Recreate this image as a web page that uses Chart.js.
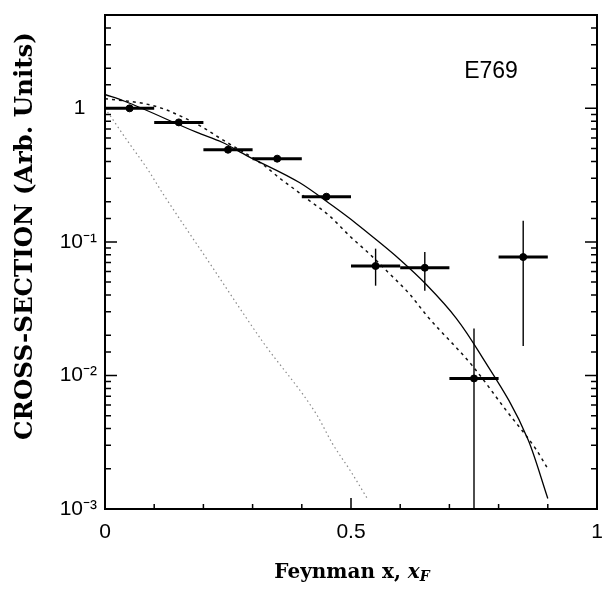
<!DOCTYPE html>
<html>
<head>
<meta charset="utf-8">
<script src="https://cdn.jsdelivr.net/npm/chart.js@4.4.0/dist/chart.umd.min.js"></script>
<style>
html, body { margin: 0; padding: 0; background: #fff; }
</style>
</head>
<body>
<canvas id="myChart" width="602" height="594"></canvas>
<script>
// E769 data points (bin centres, half bin width, value, error range)
var binCenters = [0.05, 0.15, 0.25, 0.35, 0.45, 0.55, 0.65, 0.75, 0.85];
var binHalf = [0.05, 0.05, 0.05, 0.05, 0.05, 0.05, 0.05, 0.05, 0.05];
var crossSection = [1.0, 0.785, 0.49, 0.42, 0.218, 0.066, 0.064, 0.0095, 0.077];
var errLow = [0.97, 0.76, 0.475, 0.405, 0.21, 0.047, 0.043, 0.001, 0.0166];
var errHigh = [1.03, 0.81, 0.505, 0.435, 0.226, 0.089, 0.084, 0.0225, 0.144];

// solid curve
var solidX = [0, 0.04, 0.187, 0.239, 0.288, 0.396, 0.462, 0.511, 0.554, 0.598, 0.653, 0.714, 0.76, 0.86, 0.9];
var solidY = [1.27, 1.13, 0.66, 0.555, 0.443, 0.277, 0.187, 0.137, 0.102, 0.0745, 0.048, 0.0268, 0.015, 0.0033, 0.0012];

// dashed curve
var dashX = [0, 0.077, 0.116, 0.132, 0.199, 0.233, 0.325, 0.355, 0.389, 0.416, 0.456, 0.497, 0.538, 0.578, 0.619, 0.655, 0.746, 0.815, 0.876, 0.9];
var dashY = [1.18, 1.09, 1.0, 0.95, 0.72, 0.6, 0.37, 0.30, 0.242, 0.203, 0.157, 0.111, 0.081, 0.058, 0.0407, 0.0278, 0.0119, 0.0055, 0.0028, 0.002];

// light dotted curve
var dotX = [0, 0.01, 0.045, 0.087, 0.118, 0.219, 0.26, 0.32, 0.43, 0.462, 0.5, 0.533];
var dotY = [1.0, 0.886, 0.575, 0.348, 0.229, 0.064, 0.038, 0.018, 0.0051, 0.0031, 0.0019, 0.0012];

var xTickValues = [0, 0.5, 1];
var xTickLabels = ['0', '0.5', '1'];
var yTickValues = [0.001, 0.01, 0.1, 1];
var yTickLabels = ['10\u207B\u00B3', '10\u207B\u00B2', '10\u207B\u00B9', '1  '];

function pts(xs, ys) {
  var out = [];
  for (var i = 0; i < xs.length; i++) out.push({x: xs[i], y: ys[i]});
  return out;
}

function findLabel(v, vals, labels) {
  for (var i = 0; i < vals.length; i++) {
    if (Math.abs(v - vals[i]) <= Math.max(1e-9, vals[i] * 1e-6)) return labels[i];
  }
  return '';
}

var errorBars = {
  id: 'errorBars',
  afterDatasetsDraw: function(chart) {
    var ctx = chart.ctx, xs = chart.scales.x, ys = chart.scales.y, a = chart.chartArea;
    ctx.save();
    ctx.beginPath();
    ctx.rect(a.left, a.top, a.right - a.left, a.bottom - a.top);
    ctx.clip();
    ctx.strokeStyle = '#000';
    for (var i = 0; i < binCenters.length; i++) {
      var py = ys.getPixelForValue(crossSection[i]);
      var px = xs.getPixelForValue(binCenters[i]);
      ctx.lineWidth = 3;
      ctx.beginPath();
      ctx.moveTo(xs.getPixelForValue(binCenters[i] - binHalf[i]), py);
      ctx.lineTo(xs.getPixelForValue(binCenters[i] + binHalf[i]), py);
      ctx.stroke();
      ctx.lineWidth = 1.4;
      ctx.beginPath();
      ctx.moveTo(px, ys.getPixelForValue(errLow[i]));
      ctx.lineTo(px, ys.getPixelForValue(errHigh[i]));
      ctx.stroke();
    }
    ctx.restore();
  }
};

var frame = {
  id: 'frame',
  afterDraw: function(chart) {
    var ctx = chart.ctx, a = chart.chartArea, xs = chart.scales.x, ys = chart.scales.y;
    ctx.save();
    ctx.strokeStyle = '#000';
    ctx.lineWidth = 2;
    ctx.strokeRect(a.left, a.top, a.right - a.left, a.bottom - a.top);
    ctx.lineWidth = 1.5;
    ctx.beginPath();
    ys.ticks.forEach(function(t) {
      var e = Math.log10(t.value);
      var major = Math.abs(e - Math.round(e)) < 1e-6;
      var len = major ? 12 : 6;
      var py = ys.getPixelForValue(t.value);
      if (py < a.top + 1 || py > a.bottom - 1) return;
      ctx.moveTo(a.left, py); ctx.lineTo(a.left + len, py);
      ctx.moveTo(a.right, py); ctx.lineTo(a.right - len, py);
    });
    xs.ticks.forEach(function(t) {
      var major = findLabel(t.value, xTickValues, xTickLabels) !== '';
      var len = major ? 11 : 5;
      var px = xs.getPixelForValue(t.value);
      ctx.moveTo(px, a.bottom); ctx.lineTo(px, a.bottom - len);
    });
    ctx.stroke();

    // titles and tag
    ctx.fillStyle = '#000';
    ctx.font = '23px "Liberation Sans", Arial, sans-serif';
    ctx.textAlign = 'center';
    ctx.textBaseline = 'middle';
    ctx.fillText('E769', 491, 72);

    var yTitle = 'CROSS-SECTION (Arb. Units)';
    ctx.font = 'bold 25px "DejaVu Serif", serif';
    var w = ctx.measureText(yTitle).width;
    var fs = 25 * 407 / w;
    ctx.font = 'bold ' + fs.toFixed(1) + 'px "DejaVu Serif", serif';
    ctx.save();
    ctx.translate(32, 236);
    ctx.rotate(-Math.PI / 2);
    ctx.textBaseline = 'alphabetic';
    ctx.fillText(yTitle, 0, 0);
    ctx.restore();

    var part1 = 'Feynman x, ';
    ctx.textAlign = 'left';
    ctx.textBaseline = 'alphabetic';
    ctx.font = 'bold 20px "DejaVu Serif", serif';
    var w1 = ctx.measureText(part1).width;
    ctx.font = 'italic bold 20px "DejaVu Serif", serif';
    var w2 = ctx.measureText('x').width;
    ctx.font = 'italic bold 14px "DejaVu Serif", serif';
    var w3 = ctx.measureText('F').width;
    var x0 = 352 - (w1 + w2 + w3) / 2;
    ctx.font = 'bold 20px "DejaVu Serif", serif';
    ctx.fillText(part1, x0, 578);
    ctx.font = 'italic bold 20px "DejaVu Serif", serif';
    ctx.fillText('x', x0 + w1, 578);
    ctx.font = 'italic bold 14px "DejaVu Serif", serif';
    ctx.fillText('F', x0 + w1 + w2, 581);
    ctx.restore();
  }
};

var chart = new Chart(document.getElementById('myChart'), {
  type: 'scatter',
  data: {
    datasets: [
      {
        label: 'solid',
        data: pts(solidX, solidY),
        showLine: true,
        borderColor: '#000',
        borderWidth: 1.3,
        pointRadius: 0,
        cubicInterpolationMode: 'monotone'
      },
      {
        label: 'dashed',
        data: pts(dashX, dashY),
        showLine: true,
        borderColor: '#111',
        borderWidth: 1.5,
        borderDash: [3, 4],
        pointRadius: 0,
        cubicInterpolationMode: 'monotone'
      },
      {
        label: 'dotted',
        data: pts(dotX, dotY),
        showLine: true,
        borderColor: '#8a8a8a',
        borderWidth: 1.2,
        borderDash: [1.5, 3],
        pointRadius: 0,
        cubicInterpolationMode: 'monotone'
      },
      {
        label: 'E769',
        data: pts(binCenters, crossSection),
        showLine: false,
        pointRadius: 3.5,
        pointBackgroundColor: '#000',
        pointBorderColor: '#000'
      }
    ]
  },
  options: {
    responsive: false,
    animation: false,
    layout: { padding: { left: 0, top: 15, right: 4, bottom: 0 } },
    plugins: {
      legend: { display: false },
      tooltip: { enabled: false }
    },
    scales: {
      x: {
        type: 'linear',
        min: 0,
        max: 1,
        grid: { display: false, drawTicks: false },
        border: { display: false },
        ticks: {
          stepSize: 0.1,
          autoSkip: false,
          maxRotation: 0,
          padding: 11,
          color: '#000',
          font: { family: '"Liberation Sans", Arial, sans-serif', size: 21 },
          callback: function(v) { return findLabel(v, xTickValues, xTickLabels); }
        },
        afterFit: function(s) { s.height = 85; s.paddingLeft = 0; s.paddingRight = 0; }
      },
      y: {
        type: 'logarithmic',
        min: 0.001,
        max: 5,
        grid: { display: false, drawTicks: false },
        border: { display: false },
        ticks: {
          autoSkip: false,
          padding: 8,
          color: '#000',
          font: { family: '"Liberation Sans", Arial, sans-serif', size: 21 },
          callback: function(v) { return findLabel(v, yTickValues, yTickLabels); }
        },
        afterFit: function(s) { s.width = 105; s.paddingTop = 0; s.paddingBottom = 0; }
      }
    }
  },
  plugins: [errorBars, frame]
});
</script>
</body>
</html>
